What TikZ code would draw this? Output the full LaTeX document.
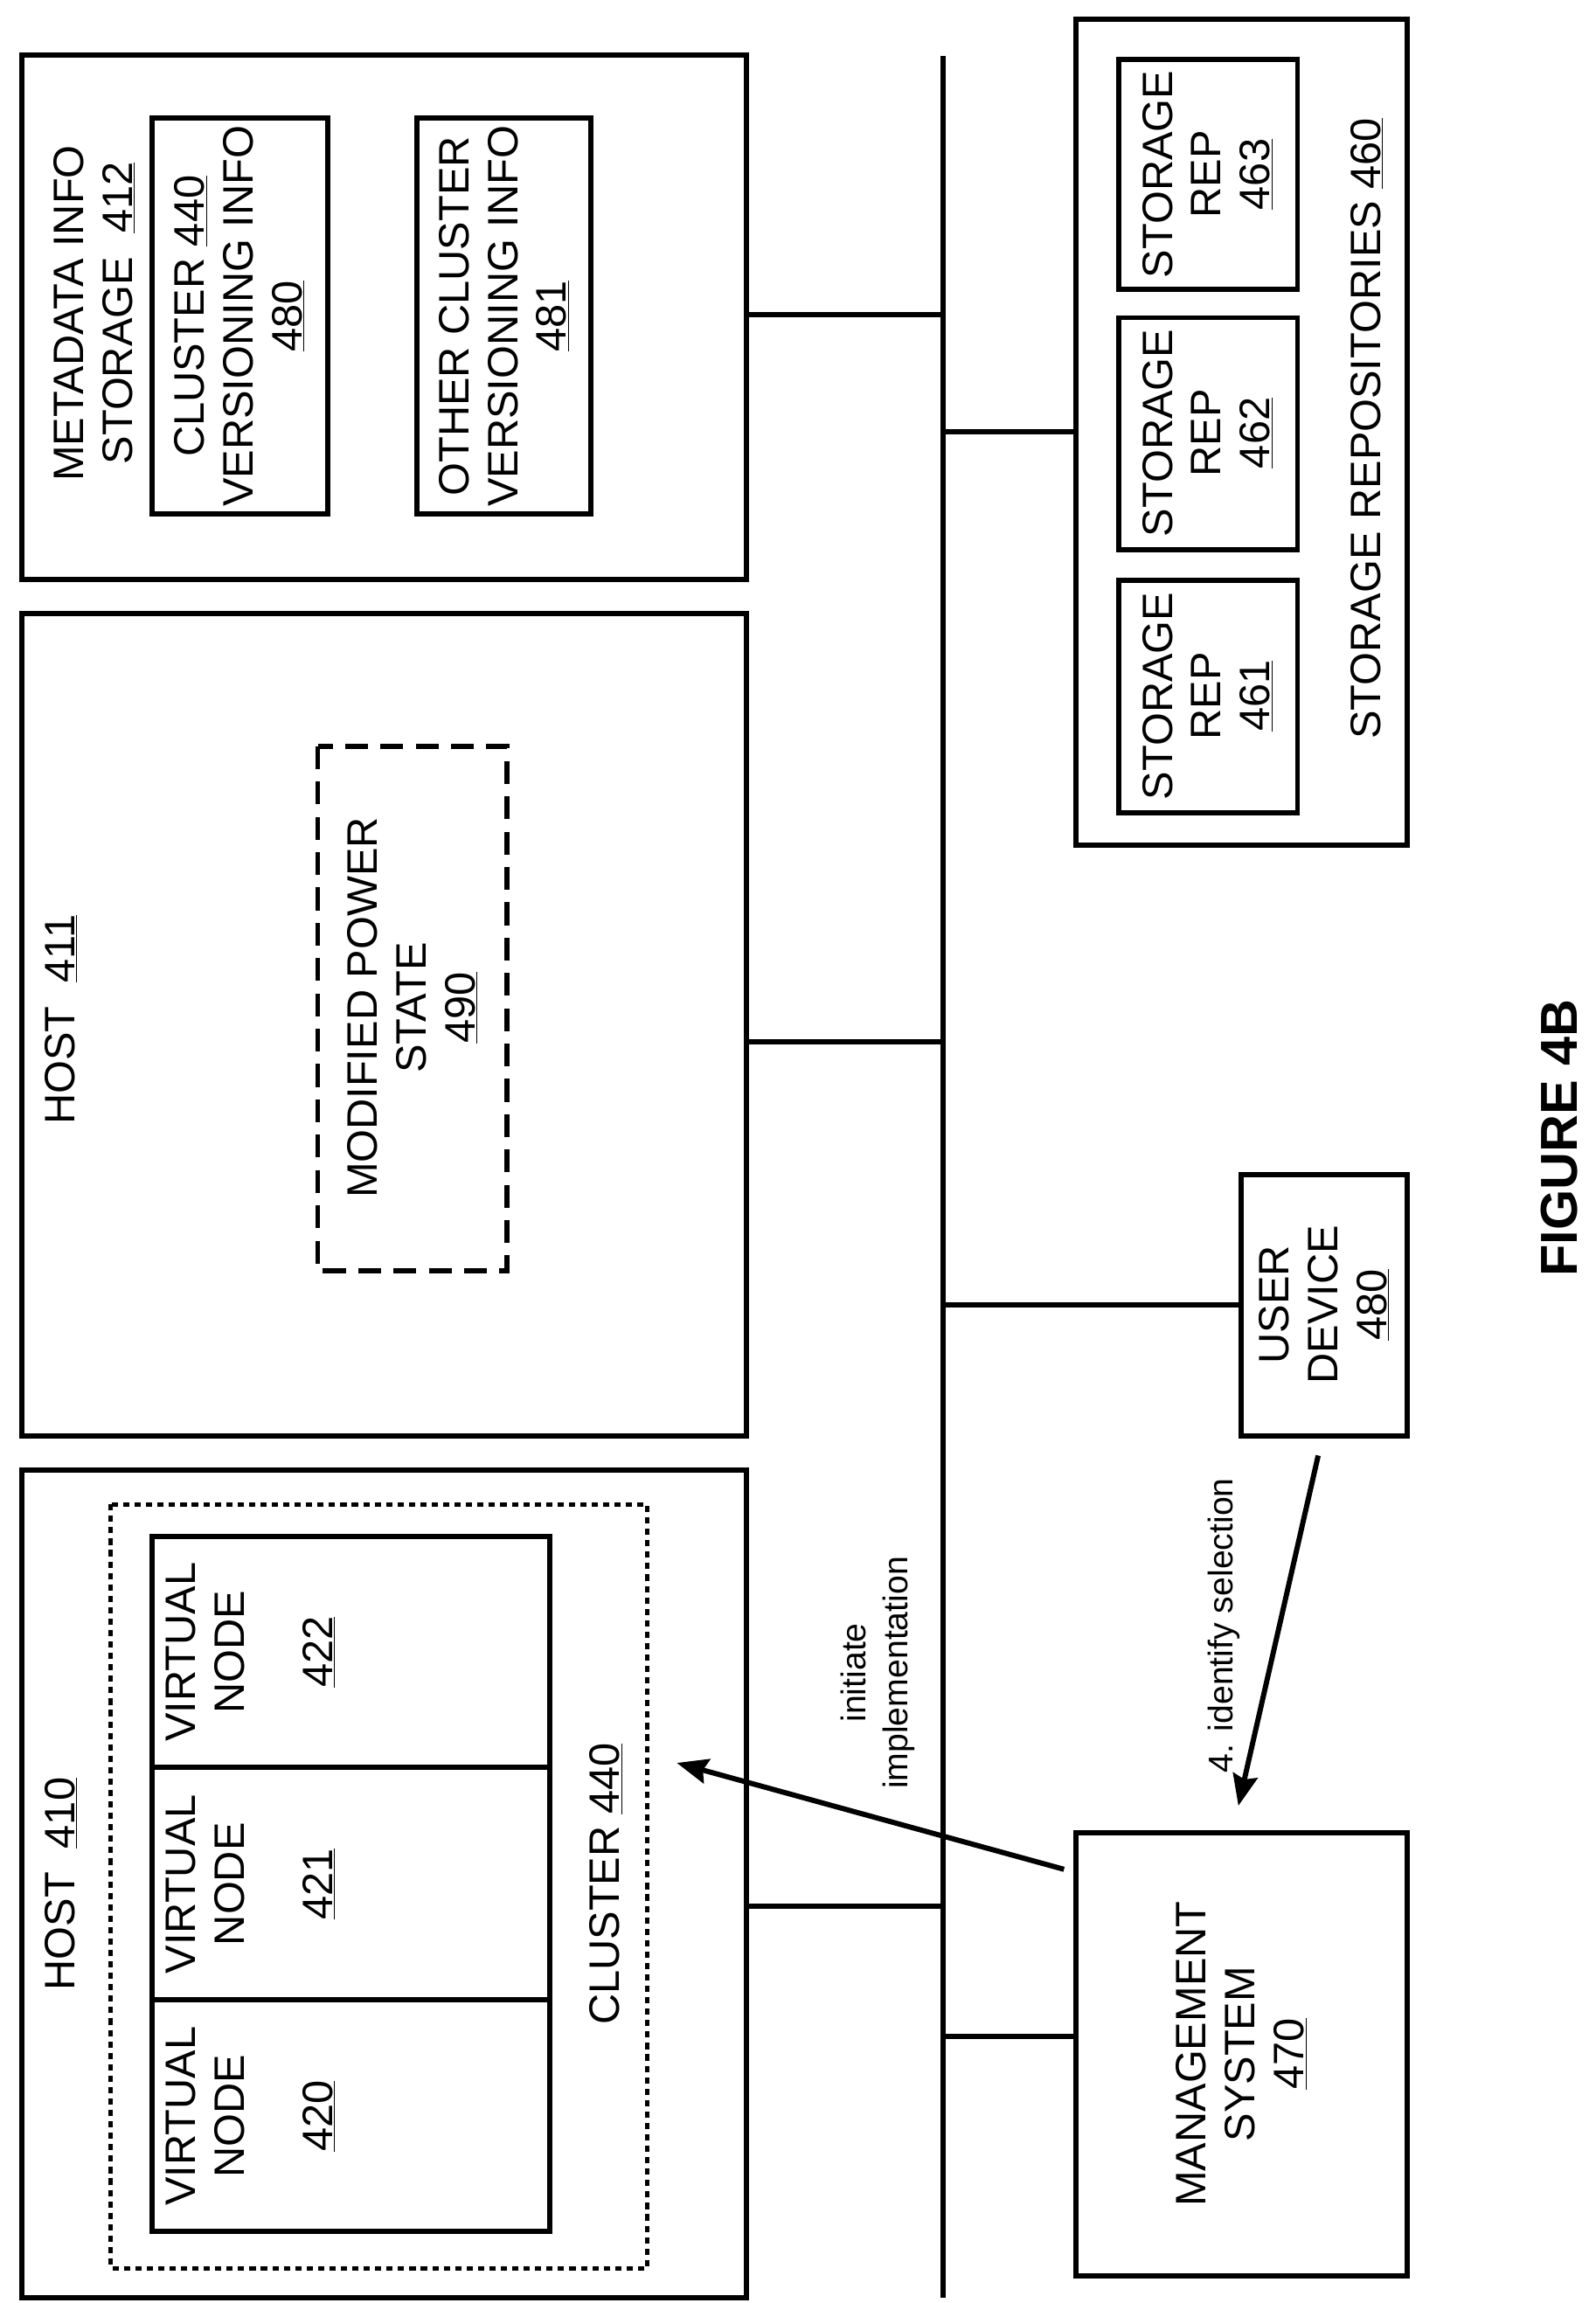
\documentclass[tikz,border=0pt]{standalone}
\usepackage{fontspec}
\setmainfont{Liberation Sans}
\usetikzlibrary{positioning,arrows.meta}
\tikzset{
    box/.style={draw, line width=5pt},
    txt/.style={rotate=90, align=center, font=\fontsize{41}{47}\selectfont},
    link/.style={line width=5pt},
    pointer/.style={line width=5pt, -{Stealth[length=30pt,width=24pt,inset=4pt]}}
}
\newcommand{\num}[1]{\underline{#1}}

\begin{document}
\begin{tikzpicture}[x=0.05cm, y=-0.05cm]
    \useasboundingbox (0,0) rectangle (1080,1558.5);

    % bus
    \coordinate (bustop) at (638,38);
    \coordinate (busbot) at (638,1555);
    \draw[link] (bustop) -- (busbot);

    % metadata storage
    \draw[box] (15,37) rectangle (505,392);
    \node[txt, anchor=north] (meta) at (34,212) {METADATA INFO\\STORAGE \ \num{412}};
    \draw[box] (103,80) rectangle (222,348);
    \node[txt] (ver440) at (162,214) {CLUSTER \num{440}\\VERSIONING INFO\\\num{480}};
    \draw[box] (282,80) rectangle (400,348);
    \node[txt] (ver481) at (341,214) {OTHER CLUSTER\\VERSIONING INFO\\\num{481}};
    \coordinate (metaR) at (505,213);
    \draw[link] (metaR) -- (metaR -| bustop);

    % host 411
    \draw[box] (15,415) rectangle (505,972);
    \node[txt, anchor=north] (host411) at (28,690) {HOST \ \num{411}};
    \draw[line width=5pt, dash pattern=on 22pt off 12pt] (215,505) rectangle (343,860);
    \node[txt] (power) at (279,682) {MODIFIED POWER\\STATE\\\num{490}};
    \coordinate (h411R) at (505,705);
    \draw[link] (h411R) -- (h411R -| bustop);

    % host 410
    \draw[box] (15,995) rectangle (505,1555);
    \node[txt, anchor=north] (host410) at (28,1275) {HOST \ \num{410}};
    \draw[line width=4pt, dash pattern=on 6pt off 5pt] (75,1018) rectangle (438,1535);
    \draw[box] (103,1040) rectangle (372,1510);
    \draw[link] (103,1196) -- (372,1196);
    \draw[link] (103,1353) -- (372,1353);
    \node[txt, anchor=north] (vn422) at (110,1118) {VIRTUAL\\NODE\\[38pt]\num{422}};
    \node[txt, anchor=north] (vn421) at (110,1275) {VIRTUAL\\NODE\\[38pt]\num{421}};
    \node[txt, anchor=north] (vn420) at (110,1432) {VIRTUAL\\NODE\\[38pt]\num{420}};
    \node[txt] (cl440) at (410,1275) {CLUSTER \num{440}};
    \coordinate (h410R) at (505,1290);
    \draw[link] (h410R) -- (h410R -| bustop);

    % storage repositories
    \draw[box] (728,13) rectangle (952,572);
    \draw[box] (757,40) rectangle (878,196);
    \node[txt] (rep463) at (817,118) {STORAGE\\REP\\\num{463}};
    \draw[box] (757,215) rectangle (878,372);
    \node[txt] (rep462) at (817,293) {STORAGE\\REP\\\num{462}};
    \draw[box] (757,393) rectangle (878,550);
    \node[txt] (rep461) at (817,471) {STORAGE\\REP\\\num{461}};
    \node[txt] (repos) at (925,290) {STORAGE REPOSITORIES \num{460}};
    \coordinate (reposL) at (728,292);
    \draw[link] (reposL) -- (reposL -| bustop);

    % user device
    \draw[box] (840,795) rectangle (952,972);
    \node[txt] (user) at (896,883) {USER\\DEVICE\\\num{480}};
    \coordinate (userL) at (840,883);
    \draw[link] (userL) -- (userL -| bustop);

    % management system
    \draw[box] (728,1240) rectangle (952,1540);
    \node[txt] (mgmt) at (840,1390) {MANAGEMENT\\SYSTEM\\\num{470}};
    \coordinate (mgmtL) at (728,1378);
    \draw[link] (mgmtL) -- (mgmtL -| bustop);

    % arrows
    \coordinate (selA) at (892,985);
    \coordinate (selB) at (838,1222);
    \draw[pointer] (selA) -- (selB);
    \node[txt, font=\fontsize{33}{40}\selectfont] (sellbl) at (828,1100) {4. identify selection};
    \coordinate (initA) at (720,1265);
    \coordinate (initB) at (458,1193);
    \draw[pointer] (initA) -- (initB);
    \node[txt, font=\fontsize{33}{40}\selectfont] (initlbl) at (594,1132) {initiate\\implementation};

    \node[txt, font=\bfseries\fontsize{50}{56}\selectfont] (fig) at (1055,770) {FIGURE 4B};
\end{tikzpicture}
\end{document}
